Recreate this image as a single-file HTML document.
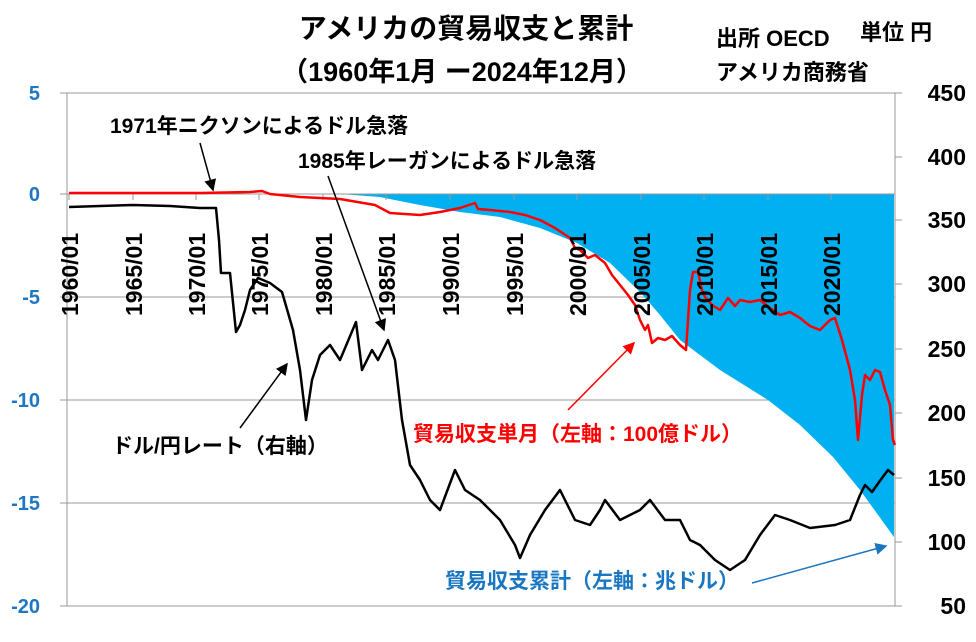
<!DOCTYPE html>
<html><head><meta charset="utf-8"><style>
body{margin:0;background:#fff;}
svg text{font-family:"Liberation Sans","Noto Sans CJK JP",sans-serif;}
</style></head><body>
<svg width="976" height="637" viewBox="0 0 976 637" xmlns="http://www.w3.org/2000/svg">
<defs><marker id="ab" markerWidth="8" markerHeight="8" refX="7" refY="4" orient="auto"><path d="M0,0 L8,4 L0,8 z" fill="#000"/></marker>
<marker id="ar" markerWidth="8" markerHeight="8" refX="7" refY="4" orient="auto"><path d="M0,0 L8,4 L0,8 z" fill="#f00"/></marker>
<marker id="au" markerWidth="8" markerHeight="8" refX="7" refY="4" orient="auto"><path d="M0,0 L8,4 L0,8 z" fill="#1976c0"/></marker></defs>
<g stroke="#999" stroke-width="1">
<line x1="67" y1="93" x2="895" y2="93"/><line x1="67" y1="297" x2="895" y2="297"/><line x1="67" y1="400" x2="895" y2="400"/><line x1="67" y1="503" x2="895" y2="503"/><line x1="67" y1="606" x2="895" y2="606"/>
<line x1="67" y1="93" x2="67" y2="606"/><line x1="895" y1="93" x2="895" y2="606"/>
</g>
<g stroke="#999"><line x1="60" y1="93" x2="67" y2="93"/><line x1="60" y1="194" x2="67" y2="194"/><line x1="60" y1="297" x2="67" y2="297"/><line x1="60" y1="400" x2="67" y2="400"/><line x1="60" y1="503" x2="67" y2="503"/><line x1="60" y1="606" x2="67" y2="606"/>
<line x1="895" y1="93" x2="902" y2="93"/><line x1="895" y1="157" x2="902" y2="157"/><line x1="895" y1="220" x2="902" y2="220"/><line x1="895" y1="284" x2="902" y2="284"/><line x1="895" y1="349" x2="902" y2="349"/><line x1="895" y1="413" x2="902" y2="413"/><line x1="895" y1="478" x2="902" y2="478"/><line x1="895" y1="542" x2="902" y2="542"/><line x1="895" y1="606" x2="902" y2="606"/></g>
<polygon fill="#00b0f0" points="340,194 894,194 894,537 860,490 833,457 800,425 768,400 720,370 680,340 660,315 641,293 610,263 577,243 540,228 500,217 460,212 420,205 380,197"/>
<line x1="67" y1="194" x2="895" y2="194" stroke="#999"/>
<g stroke="#999"><line x1="69" y1="194" x2="69" y2="200"/><line x1="133" y1="194" x2="133" y2="200"/><line x1="196" y1="194" x2="196" y2="200"/><line x1="259" y1="194" x2="259" y2="200"/><line x1="323" y1="194" x2="323" y2="200"/><line x1="386" y1="194" x2="386" y2="200"/><line x1="450" y1="194" x2="450" y2="200"/><line x1="514" y1="194" x2="514" y2="200"/><line x1="577" y1="194" x2="577" y2="200"/><line x1="641" y1="194" x2="641" y2="200"/><line x1="704" y1="194" x2="704" y2="200"/><line x1="768" y1="194" x2="768" y2="200"/><line x1="831" y1="194" x2="831" y2="200"/></g>
<polyline fill="none" stroke="#f00" stroke-width="2.5" stroke-linejoin="round" points="69,193 200,193 250,192 262,191 270,194 300,197 340,199 375,205 390,213 420,215 440,212 460,208 475,203 478,209 490,210 510,212 525,215 540,220 555,228 570,238 575,248 580,250 588,258 595,255 605,263 612,275 620,285 628,295 635,305 640,320 645,330 648,325 652,343 658,338 665,340 672,336 680,345 686,350 690,290 693,272 698,272 702,290 705,297 712,305 720,310 728,298 735,306 740,300 750,302 760,300 770,308 780,315 790,312 800,318 810,326 820,330 825,325 830,320 835,318 842,340 850,370 855,400 858,440 862,395 865,375 870,380 875,370 880,372 885,390 890,405 893,440 895,445"/>
<polyline fill="none" stroke="#000" stroke-width="2.5" stroke-linejoin="round" points="69,207 100,206 133,205 170,206 200,208 216,208 219,240 221,273 230,273 236,332 240,325 245,310 250,290 258,278 270,283 282,292 293,330 300,370 306,420 312,380 320,355 330,345 340,360 356,322 362,370 372,350 378,360 388,340 395,360 402,420 410,465 420,480 430,500 440,510 455,470 465,490 480,500 500,520 515,545 520,558 530,535 545,510 560,490 575,520 590,525 600,510 605,500 620,520 640,510 650,500 665,520 680,520 690,540 700,545 715,560 730,570 745,560 760,535 775,515 790,520 810,528 835,525 850,520 860,495 865,485 872,492 882,478 888,470 894,475"/>
<g font-size="23" font-weight="bold" fill="#000">
<text transform="translate(78,316) rotate(-90)">1960/01</text><text transform="translate(142,316) rotate(-90)">1965/01</text><text transform="translate(205,316) rotate(-90)">1970/01</text><text transform="translate(268,316) rotate(-90)">1975/01</text><text transform="translate(332,316) rotate(-90)">1980/01</text><text transform="translate(395,316) rotate(-90)">1985/01</text><text transform="translate(459,316) rotate(-90)">1990/01</text><text transform="translate(523,316) rotate(-90)">1995/01</text><text transform="translate(586,316) rotate(-90)">2000/01</text><text transform="translate(650,316) rotate(-90)">2005/01</text><text transform="translate(713,316) rotate(-90)">2010/01</text><text transform="translate(777,316) rotate(-90)">2015/01</text><text transform="translate(840,316) rotate(-90)">2020/01</text>
</g>
<g font-size="20" font-weight="bold" fill="#1f77c4" text-anchor="end">
<text x="40" y="100">5</text><text x="40" y="201">0</text><text x="40" y="304">-5</text><text x="40" y="407">-10</text><text x="40" y="510">-15</text><text x="40" y="613">-20</text></g>
<g font-size="23" font-weight="bold" fill="#000" text-anchor="end">
<text x="966" y="101">450</text><text x="966" y="165">400</text><text x="966" y="228">350</text><text x="966" y="292">300</text><text x="966" y="357">250</text><text x="966" y="421">200</text><text x="966" y="486">150</text><text x="966" y="550">100</text><text x="966" y="614">50</text></g>
<text x="466" y="38" font-size="28" font-weight="bold" text-anchor="middle">アメリカの貿易収支と累計</text>
<text x="462" y="81" font-size="27" font-weight="bold" text-anchor="middle">（1960年1月 ー2024年12月）</text>
<text x="716" y="46" font-size="22" font-weight="bold">出所 OECD</text>
<text x="860" y="40" font-size="22" font-weight="bold">単位 円</text>
<text x="716" y="80" font-size="22" font-weight="bold">アメリカ商務省</text>
<g font-size="21" fill="#000" font-weight="bold">
<text x="110" y="133">1971年ニクソンによるドル急落</text>
<text x="298" y="168">1985年レーガンによるドル急落</text>
<text x="112" y="453">ドル/円レート（右軸）</text></g>
<text x="413" y="441" font-size="21" font-weight="bold" fill="#f00">貿易収支単月（左軸：100億ドル）</text>
<text x="445" y="588" font-size="21" font-weight="bold" fill="#1976c0">貿易収支累計（左軸：兆ドル）</text>
<line x1="200" y1="143" x2="213" y2="190" stroke="#000" stroke-width="1.5" marker-end="url(#ab)"/>
<line x1="328" y1="176" x2="384" y2="330" stroke="#000" stroke-width="1.5" marker-end="url(#ab)"/>
<line x1="240" y1="428" x2="287" y2="364" stroke="#000" stroke-width="1.5" marker-end="url(#ab)"/>
<line x1="568" y1="410" x2="634" y2="343" stroke="#f00" stroke-width="1.5" marker-end="url(#ar)"/>
<line x1="752" y1="583" x2="886" y2="546" stroke="#1976c0" stroke-width="1.5" marker-end="url(#au)"/>
</svg>
</body></html>
